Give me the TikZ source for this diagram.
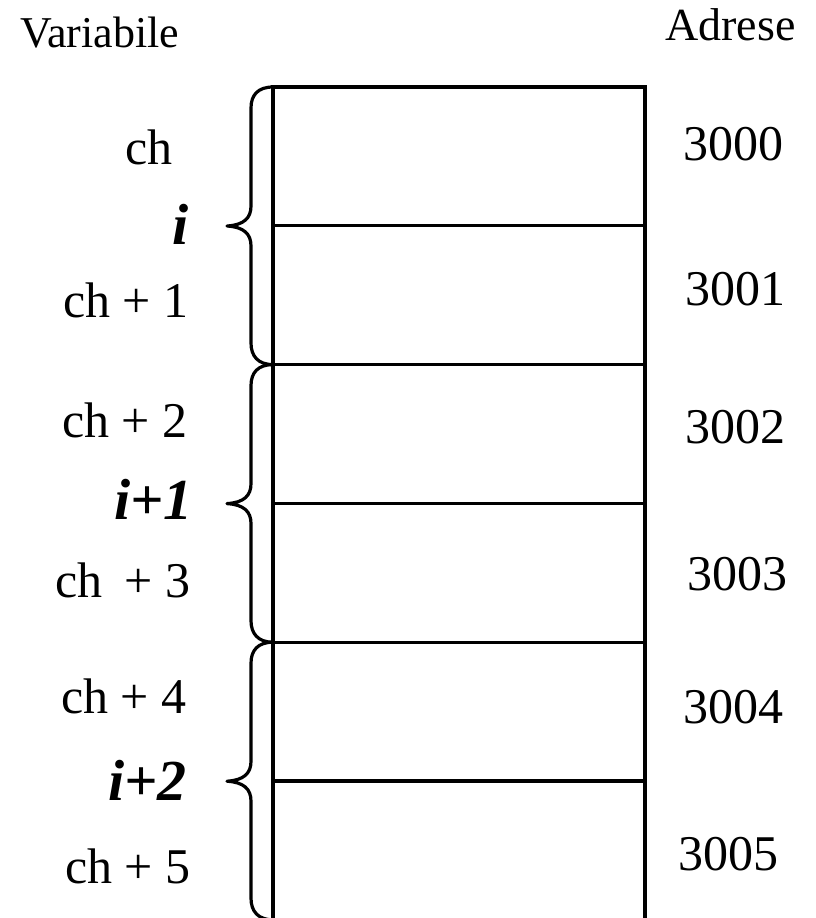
\documentclass[tikz,border=0pt]{standalone}
\usepackage{fontspec}
\setmainfont{Liberation Serif}
\begin{document}
\begin{tikzpicture}[x=1pt,y=-1pt,
  cell/.style={draw,line width=3.2pt,anchor=north west,minimum width=372pt,minimum height=138.8pt,inner sep=0pt,outer sep=0pt},
  lbl/.style={anchor=base west,inner sep=0pt,font=\fontsize{50}{56}\selectfont},
  ivar/.style={anchor=base west,inner sep=0pt,font=\fontsize{58}{64}\selectfont\bfseries\itshape},
  hdr/.style={anchor=base west,inner sep=0pt,font=\fontsize{44}{50}\selectfont},
  bracel/.style={line width=3.2pt,line join=round}]
\useasboundingbox (0,0) rectangle (816,918);
% cells
\foreach \k in {0,...,5}{
  \node[cell] (c\k) at (273,{87+138.8*\k}) {};
}
% braces
\foreach \t [count=\n] in {87,364.6,642.2}{
  \draw[bracel] (273,\t) .. controls (258,\t) and (251,\t+8) .. (251,\t+21)
    -- (251,\t+119) .. controls (251,\t+131) and (244,\t+138) .. (227,\t+139)
    .. controls (244,\t+140) and (251,\t+147) .. (251,\t+159)
    -- (251,\t+256) .. controls (251,\t+269) and (258,\t+277.6) .. (273,\t+277.6);
}
% headers
\node[hdr] (hv) at (20,47) {Variabile};
\node[hdr,font=\fontsize{46}{52}\selectfont] (ha) at (665,40) {Adrese};
% variable labels
\node[lbl] (v0) at (125,164) {ch};
\node[ivar] (i0) at (172,244) {i};
\node[lbl] (v1) at (63,317) {ch + 1};
\node[lbl] (v2) at (62,437) {ch + 2};
\node[ivar] (i1) at (114,519) {i+1};
\node[lbl] (v3) at (55,597) {ch\hspace{10pt} + 3};
\node[lbl] (v4) at (61,713) {ch + 4};
\node[ivar] (i2) at (108,800) {i+2};
\node[lbl] (v5) at (65,883) {ch + 5};
% addresses
\node[lbl] (a0) at (683,160) {3000};
\node[lbl] (a1) at (685,305) {3001};
\node[lbl] (a2) at (685,443) {3002};
\node[lbl] (a3) at (687,590) {3003};
\node[lbl] (a4) at (683,723) {3004};
\node[lbl] (a5) at (678,870) {3005};
\end{tikzpicture}
\end{document}
